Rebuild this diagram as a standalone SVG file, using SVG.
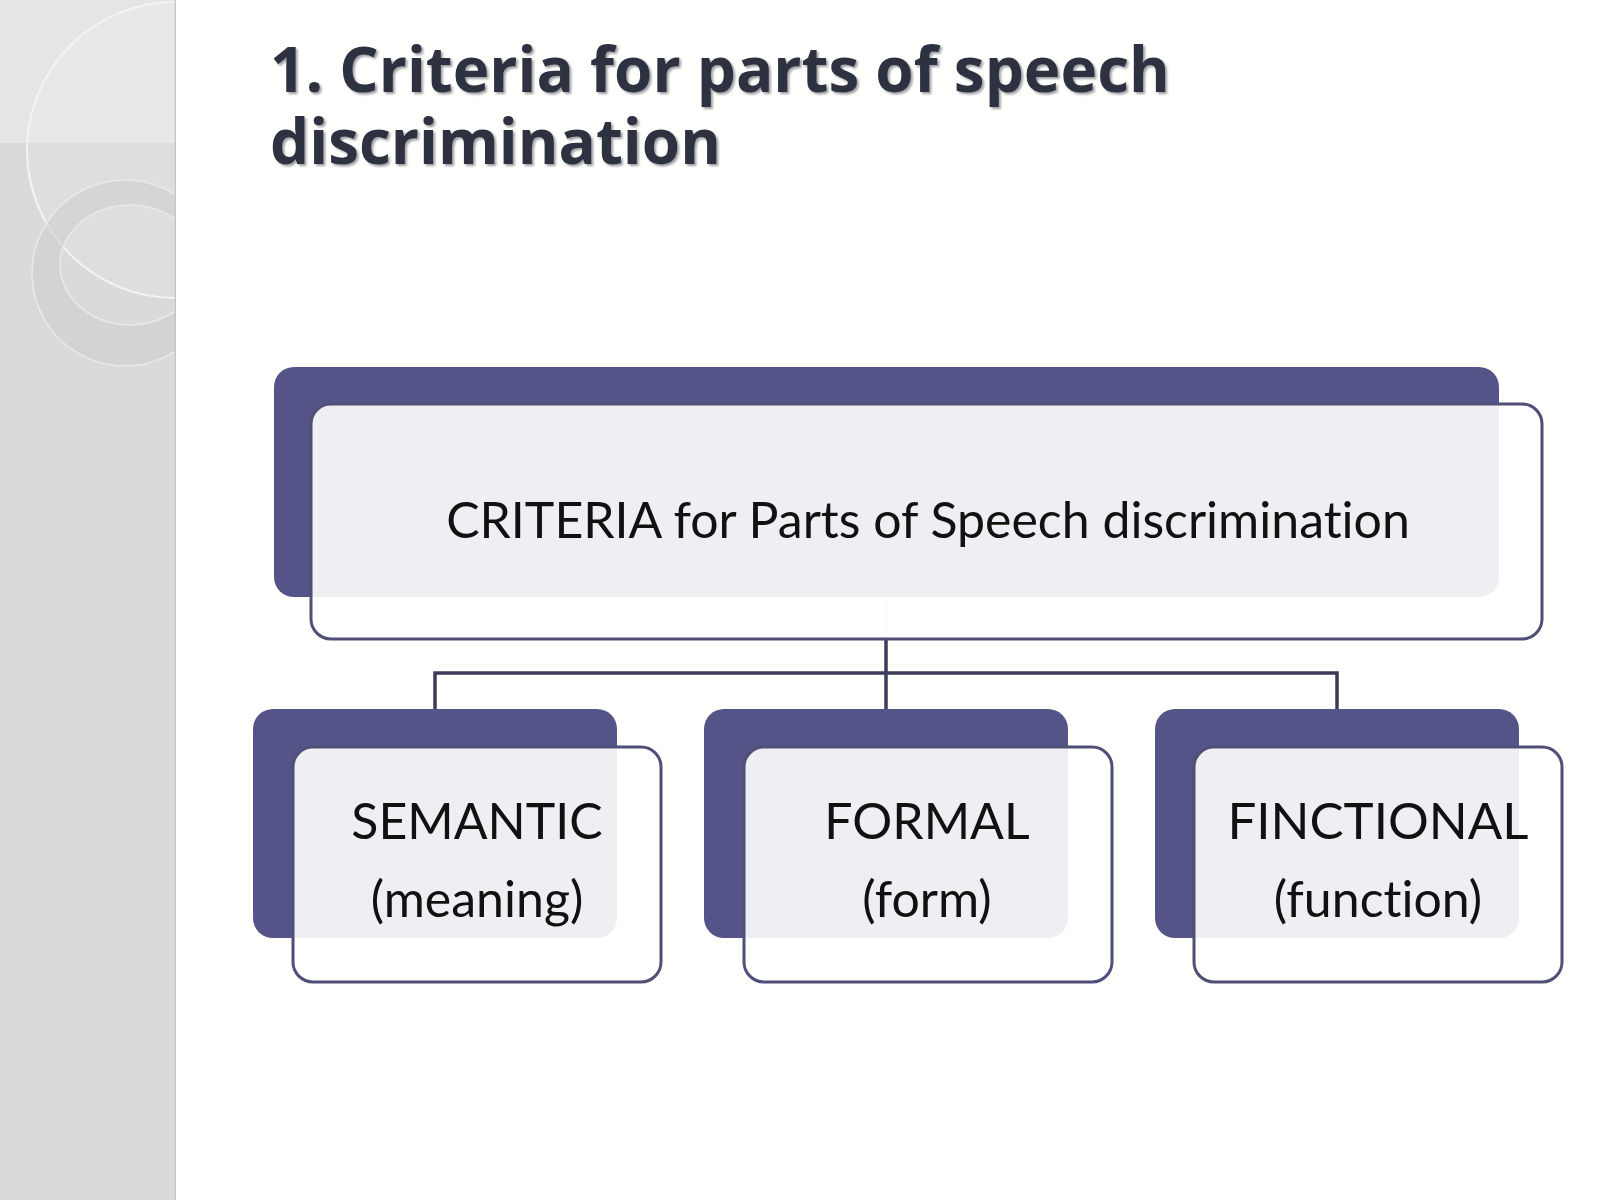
<svg xmlns="http://www.w3.org/2000/svg" width="1600" height="1200" viewBox="0 0 1600 1200">
<defs>
<style>
.back{fill:#545489;}
.front{fill:#ffffff;fill-opacity:0.9;stroke:#4f4f78;stroke-width:3;}
.lbl{font-family:Lato,"Liberation Sans",sans-serif;fill:#111111;text-anchor:middle;font-variant-ligatures:none;}
.title{font-family:"Open Sans","Liberation Sans",sans-serif;font-weight:bold;font-size:62px;fill:#2e3140;}
.conn{stroke:#3c3c58;stroke-width:3.5;fill:none;}
</style>
<filter id="shadow" x="-5%" y="-20%" width="110%" height="140%">
<feDropShadow dx="2" dy="2" stdDeviation="1" flood-color="#777780" flood-opacity="0.7"/>
</filter>
<clipPath id="side"><rect x="0" y="0" width="176" height="1200"/></clipPath>
</defs>
<rect width="1600" height="1200" fill="#fffffd"/>
<g id="sidebar" clip-path="url(#side)">
<rect x="0" y="0" width="176" height="1200" fill="#dadada"/>
<rect x="0" y="0" width="176" height="143" fill="#e5e5e5"/>
<circle cx="175" cy="150" r="148" fill="#ffffff" fill-opacity="0.12" stroke="#f4f4f4" stroke-width="2"/>
<path d="M125 180 a93 93 0 1 0 0.1 0 Z M130 205 a70 60 0 1 1 -0.1 0 Z" fill="#cfcfcf" fill-opacity="0.6" fill-rule="evenodd" stroke="#e9e9e9" stroke-width="1.5"/>
<line x1="175.5" y1="0" x2="175.5" y2="1200" stroke="#c4c4c4" stroke-width="1.5"/>
</g>
<g id="title" filter="url(#shadow)">
<text class="title" x="270" y="92">1. Criteria for parts of speech</text>
<text class="title" x="270" y="164">discrimination</text>
</g>
<g id="connectors">
<line class="conn" x1="886" y1="600" x2="886" y2="639" stroke-opacity="0.15"/>
<line class="conn" x1="886" y1="639" x2="886" y2="709"/>
<polyline class="conn" points="435,709 435,673 1337,673 1337,709"/>
</g>
<g id="node-main">
<rect class="back" x="274" y="367" width="1225" height="230" rx="20"/>
<rect class="front" x="311" y="404" width="1231" height="235" rx="20"/>
<text class="lbl" x="928" y="538" font-size="50">CRITERIA for Parts of Speech discrimination</text>
</g>
<g id="node-semantic">
<rect class="back" x="253" y="709" width="364" height="229" rx="20"/>
<rect class="front" x="293" y="747" width="368" height="235" rx="20"/>
<text class="lbl" x="477" y="839" font-size="50">SEMANTIC</text>
<text class="lbl" x="477" y="917" font-size="50">(meaning)</text>
</g>
<g id="node-formal">
<rect class="back" x="704" y="709" width="364" height="229" rx="20"/>
<rect class="front" x="744" y="747" width="368" height="235" rx="20"/>
<text class="lbl" x="927" y="839" font-size="50">FORMAL</text>
<text class="lbl" x="927" y="917" font-size="50">(form)</text>
</g>
<g id="node-functional">
<rect class="back" x="1155" y="709" width="364" height="229" rx="20"/>
<rect class="front" x="1194" y="747" width="368" height="235" rx="20"/>
<text class="lbl" x="1378" y="839" font-size="51">FINCTIONAL</text>
<text class="lbl" x="1378" y="917" font-size="50">(function)</text>
</g>
</svg>
